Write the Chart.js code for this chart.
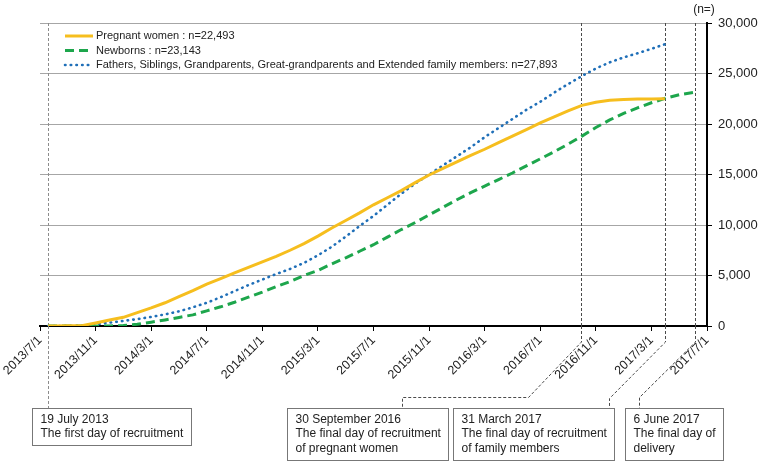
<!DOCTYPE html>
<html>
<head>
<meta charset="utf-8">
<script src="https://cdn.jsdelivr.net/npm/chart.js@4"></script>
<style>
	body { margin: 0; background: #fff; }
	canvas { display: block; }
</style>
</head>
<body>
<canvas id="grafico" width="760" height="462"></canvas>
<script>
const fonte = 'Arial, "Liberation Sans", sans-serif';

// dates of the samples (cumulative counts)
const datas = [
	'2013/7/19', '2013/8/1', '2013/9/1', '2013/10/1', '2013/11/1', '2013/12/1',
	'2014/1/1', '2014/2/1', '2014/3/1', '2014/4/1', '2014/5/1', '2014/6/1',
	'2014/7/1', '2014/8/1', '2014/9/1', '2014/10/1', '2014/11/1', '2014/12/1',
	'2015/1/1', '2015/2/1', '2015/3/1', '2015/4/1', '2015/5/1', '2015/6/1',
	'2015/7/1', '2015/8/1', '2015/9/1', '2015/10/1', '2015/11/1', '2015/12/1',
	'2016/1/1', '2016/2/1', '2016/3/1', '2016/4/1', '2016/5/1', '2016/6/1',
	'2016/7/1', '2016/8/1', '2016/9/1', '2016/10/1', '2016/11/1', '2016/12/1',
	'2017/1/1', '2017/2/1', '2017/3/1', '2017/3/31', '2017/4/1', '2017/5/1',
	'2017/6/1', '2017/6/6'
];

const gestantes = [
	0, 0, 20, 30, 300, 600,
	860, 1320, 1790, 2300, 2900, 3500,
	4150, 4700, 5250, 5800, 6350, 6900,
	7500, 8150, 8900, 9700, 10450, 11200,
	12000, 12700, 13400, 14200, 14950, 15600,
	16250, 16900, 17500, 18150, 18800, 19450,
	20100, 20700, 21300, 21850, 22150, 22350,
	22430, 22470, 22485, 22493, null, null,
	null, null
];

const recemNascidos = [
	0, 0, 0, 0, 0, 10,
	50, 170, 380, 600, 850, 1100,
	1500, 1900, 2350, 2850, 3350, 3900,
	4400, 5000, 5500, 6150, 6750, 7400,
	8050, 8800, 9550, 10250, 11000, 11750,
	12500, 13200, 13850, 14500, 15150, 15850,
	16550, 17250, 18000, 18800, 19650, 20400,
	21050, 21600, 22100, 22530, 22550, 22900,
	23120, 23143
];

const familia = [
	0, 0, 10, 50, 170, 330,
	500, 680, 900, 1150, 1450, 1850,
	2300, 2850, 3450, 4050, 4600, 5150,
	5650, 6250, 7000, 7850, 8850, 9900,
	10900, 12000, 13100, 14100, 15000, 15900,
	16800, 17700, 18700, 19600, 20500, 21400,
	22200, 23100, 23950, 24750, 25500, 26100,
	26600, 27000, 27450, 27893, null, null,
	null, null
];

const rotulosX = [
	'2013/7/1', '2013/11/1', '2014/3/1', '2014/7/1', '2014/11/1', '2015/3/1', '2015/7/1',
	'2015/11/1', '2016/3/1', '2016/7/1', '2016/11/1', '2017/3/1', '2017/7/1'
];

const eventos = ['2013/7/19', '2016/9/30', '2017/3/31', '2017/6/6'];
const textosEventos = [
	['19 July 2013', 'The first day of recruitment'],
	['30 September 2016', 'The final day of recruitment', 'of pregnant women'],
	['31 March 2017', 'The final day of recruitment', 'of family members'],
	['6 June 2017', 'The final day of', 'delivery']
];

// month index counted from 2013/7/1
function paraMes(texto) {
	const [a, m, d] = texto.split('/').map(Number);
	const diasNoMes = new Date(a, m, 0).getDate();
	return (a - 2013) * 12 + (m - 7) + (d - 1) / diasNoMes;
}

function gerarPontos(valores) {
	const pontos = [];
	valores.forEach((v, i) => {
		if (v !== null) pontos.push({ x: paraMes(datas[i]), y: v });
	});
	return pontos;
}

function corEvento(i) {
	return i === 0 ? '#8c8c8c' : '#4a4a4a';
}

const anotacoes = {
	id: 'anotacoes',
	beforeDatasetsDraw(chart) {
		const { ctx, chartArea, scales } = chart;
		ctx.save();
		ctx.lineWidth = 1;
		ctx.setLineDash([3, 2]);
		eventos.forEach((d, i) => {
			const x = Math.round(scales.x.getPixelForValue(paraMes(d))) + 0.5;
			ctx.strokeStyle = corEvento(i);
			ctx.beginPath();
			ctx.moveTo(x, chartArea.top);
			ctx.lineTo(x, chartArea.bottom);
			ctx.stroke();
		});
		ctx.restore();
	},
	afterDraw(chart) {
		const { ctx, chartArea, scales } = chart;
		const caixas = [
			{ left: 32 },
			{ left: 287, bend: [528, 397], drop: 402 },
			{ left: 453, bend: [609, 398] },
			{ left: 625, bend: [639, 397] }
		];
		const topoCaixa = 408.5;

		ctx.save();
		// leader lines
		ctx.lineWidth = 1;
		ctx.setLineDash([3, 2]);
		eventos.forEach((d, i) => {
			const x = Math.round(scales.x.getPixelForValue(paraMes(d))) + 0.5;
			const c = caixas[i];
			ctx.strokeStyle = corEvento(i);
			ctx.beginPath();
			ctx.moveTo(x, chartArea.bottom);
			let fimX = x;
			if (c.bend) {
				ctx.lineTo(x, 342);
				ctx.lineTo(c.bend[0] + 0.5, c.bend[1] + 0.5);
				fimX = c.bend[0] + 0.5;
				if (c.drop) {
					ctx.lineTo(c.drop + 0.5, c.bend[1] + 0.5);
					fimX = c.drop + 0.5;
				}
			}
			ctx.lineTo(fimX, topoCaixa);
			ctx.stroke();
		});

		// boxes
		ctx.setLineDash([]);
		ctx.font = '12px ' + fonte;
		ctx.textBaseline = 'middle';
		ctx.textAlign = 'left';
		textosEventos.forEach((linhas, i) => {
			const larg = Math.max(...linhas.map(l => ctx.measureText(l).width)) + 16;
			const alt = linhas.length * 14.5 + 8;
			const esq = caixas[i].left + 0.5;
			ctx.fillStyle = '#fff';
			ctx.fillRect(esq, topoCaixa, larg, alt);
			ctx.strokeStyle = '#777';
			ctx.strokeRect(esq, topoCaixa, Math.round(larg), Math.round(alt));
			ctx.fillStyle = '#222';
			linhas.forEach((l, j) => ctx.fillText(l, esq + 8, topoCaixa + 11 + j * 14.5));
		});

		// legend
		ctx.font = '11px ' + fonte;
		chart.data.datasets.forEach((ds, i) => {
			const y = 36 + i * 14.5;
			ctx.beginPath();
			ctx.strokeStyle = ds.borderColor;
			ctx.lineWidth = ds.borderWidth;
			ctx.lineCap = ds.borderCapStyle || 'butt';
			ctx.setLineDash(ds.borderDash || []);
			ctx.moveTo(65, y);
			ctx.lineTo(93, y);
			ctx.stroke();
			ctx.fillStyle = '#222';
			ctx.fillText(ds.label, 96, y);
		});

		// unit label
		ctx.font = '12px ' + fonte;
		ctx.textAlign = 'center';
		ctx.fillText('(n=)', 704, 10);
		ctx.restore();
	}
};

const ctx = document.getElementById('grafico').getContext('2d');
let myChart = new Chart(ctx, {
	type: 'line',
	data: {
		datasets: [{
			label: 'Pregnant women : n=22,493',
			data: gerarPontos(gestantes),
			borderColor: '#F6BE1E',
			borderWidth: 3,
			borderDash: [],
			pointRadius: 0
		}, {
			label: 'Newborns : n=23,143',
			data: gerarPontos(recemNascidos),
			borderColor: '#1DA64C',
			borderWidth: 3,
			borderDash: [9, 5],
			pointRadius: 0
		}, {
			label: 'Fathers, Siblings, Grandparents, Great-grandparents and Extended family members: n=27,893',
			data: gerarPontos(familia),
			borderColor: '#1F6FB8',
			borderWidth: 2.6,
			borderDash: [0.5, 5.2],
			borderCapStyle: 'round',
			pointRadius: 0
		}]
	},
	options: {
		responsive: false,
		animation: false,
		layout: { padding: { left: 40, top: 23, right: 0, bottom: 0 } },
		plugins: {
			legend: { display: false },
			tooltip: { enabled: false }
		},
		scales: {
			x: {
				type: 'linear',
				position: 'bottom',
				min: 0,
				max: 48,
				afterBuildTicks: scale => {
					scale.ticks = rotulosX.map((r, i) => ({ value: i * 4 }));
				},
				afterFit: scale => {
					scale.height = 136;
					scale.paddingLeft = 0;
					scale.paddingRight = 0;
				},
				ticks: {
					autoSkip: false,
					minRotation: 45,
					maxRotation: 45,
					padding: 2,
					color: '#222',
					font: { family: fonte, size: 12.5 },
					callback: (v, i) => rotulosX[i]
				},
				grid: { drawOnChartArea: false, tickLength: 5, tickColor: '#000' },
				border: { color: '#000', width: 2 }
			},
			y: {
				position: 'right',
				min: 0,
				max: 30000,
				afterFit: scale => {
					scale.width = 53;
					scale.paddingTop = 0;
					scale.paddingBottom = 0;
				},
				ticks: {
					stepSize: 5000,
					padding: 6,
					color: '#222',
					font: { family: fonte, size: 13 },
					callback: v => v.toLocaleString('en-US')
				},
				grid: { color: '#a6a6a6', tickColor: '#000', tickLength: 5 },
				border: { color: '#000', width: 2 }
			}
		}
	},
	plugins: [anotacoes]
});
</script>
</body>
</html>
